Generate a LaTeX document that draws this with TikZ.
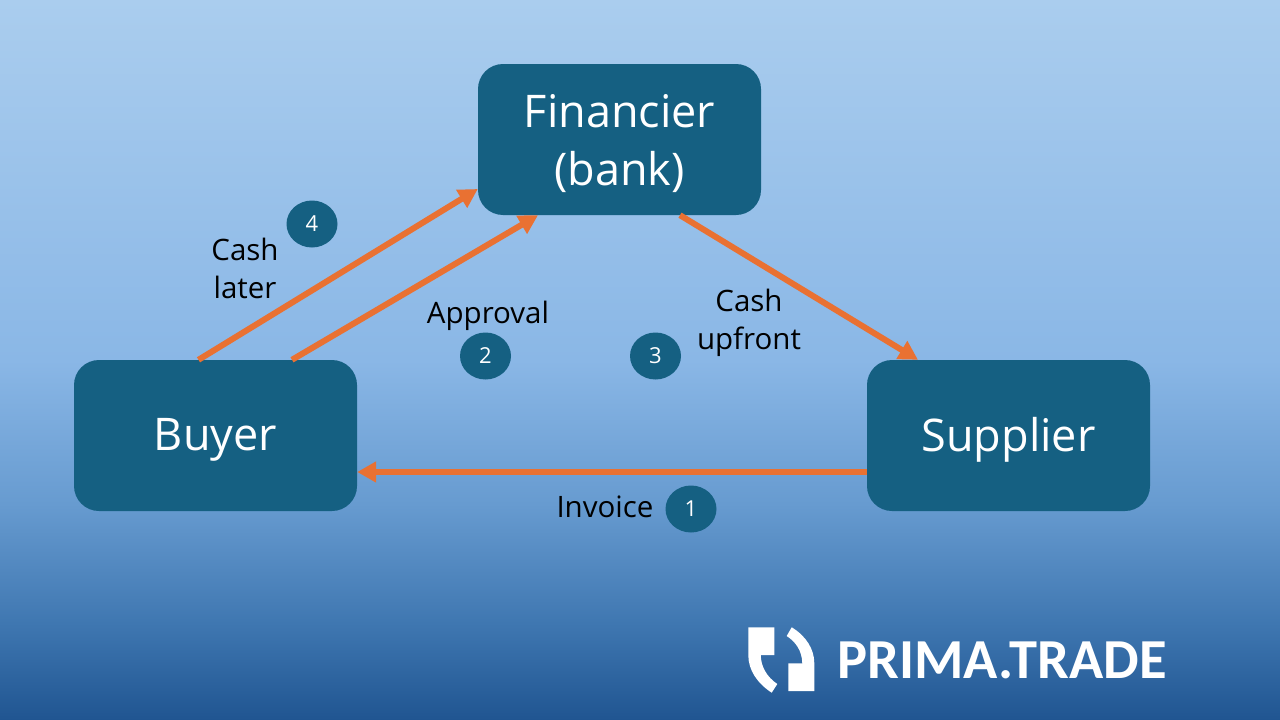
\documentclass[tikz,border=0pt]{standalone}
\usepackage{fontspec}
\setmainfont{Open Sans}
\newfontfamily\logofont{Carlito}
\usetikzlibrary{arrows.meta, shapes.geometric}
\definecolor{boxblue}{HTML}{156082}
\definecolor{arroworange}{HTML}{E97132}
\definecolor{skyA}{RGB}{32,85,145}
\definecolor{skyB}{RGB}{62,118,176}
\definecolor{skyC}{RGB}{103,155,208}
\definecolor{skyD}{RGB}{138,183,230}
\definecolor{skyE}{RGB}{170,205,238}
\pgfdeclareverticalshading{skyfade}{100bp}{
  color(0bp)=(skyA);
  color(25bp)=(skyA);
  color(31.5bp)=(skyB);
  color(40bp)=(skyC);
  color(50bp)=(skyD);
  color(75bp)=(skyE);
  color(100bp)=(skyE)}
\newcommand{\partyline}[1]{\raisebox{-4.5pt}[\height][\depth]{#1}}
\tikzset{
  party/.style={draw=none,fill=boxblue,rounded corners=25pt,minimum width=283pt,minimum height=151pt,
    text=white,align=center,font=\fontsize{45}{58}\selectfont},
  stepmark/.style={shape=ellipse,fill=boxblue,inner sep=0pt,minimum width=51pt,minimum height=47pt,
    text=white,font=\fontsize{22}{24}\selectfont},
  caption/.style={align=center,text=black,inner sep=0pt,font=\fontsize{29.5}{38}\selectfont},
  flow/.style={draw=arroworange,line width=6pt,-{Triangle[length=19pt,width=20pt]}}
}
\begin{document}
\begin{tikzpicture}[x=1pt,y=-1pt]
  \useasboundingbox (0,0) rectangle (1280,720);
  \shade[shading=skyfade] (0,0) rectangle (1280,720);
  \node[party] (fin) at (619.5,139.5) {\partyline{Financier}\\\partyline{(bank)}};
  \node[party] (buyer) at (215.5,435.5) {\partyline{Buyer}};
  \node[party] (supplier) at (1008.5,435.5) {\partyline{Supplier}};
  \draw[flow] ([xshift=-17pt]buyer.north) -- ([yshift=-49.5pt]fin.west);
  \draw[flow] ([xshift=76.5pt]buyer.north) -- ([xshift=-81.5pt]fin.south);
  \draw[flow] ([xshift=60.5pt]fin.south) -- ([xshift=-90.5pt]supplier.north);
  \draw[flow] ([yshift=-36.5pt]supplier.west) -- ([yshift=-36.5pt]buyer.east);
  \node[stepmark] (s1) at (691,509) {1};
  \node[stepmark] (s2) at (485.5,356) {2};
  \node[stepmark] (s3) at (655.5,356) {3};
  \node[stepmark] (s4) at (312,224) {4};
  \node[caption] (invoice) at (605,507) {Invoice};
  \node[caption] (approval) at (488,316) {Approval};
  \node[caption] (upfront) at (749,323) {Cash\\upfront};
  \node[caption] (later) at (245,268) {Cash\\later};
  % logo
  \fill[white] (748.3,627.3) -- (774.3,627.3) -- (774.3,655) -- (760.7,655)
    .. controls (761,667) and (767,677) .. (777.3,684) -- (771.7,692.7)
    .. controls (757,683) and (748.3,670) .. (748.3,655) -- cycle;
  \fill[white] (814.3,691) -- (788.3,691) -- (788.3,663.3) -- (802.3,663.3)
    .. controls (802,651) and (796,642) .. (786.7,636) -- (791.7,627.3)
    .. controls (806,636) and (814.3,649) .. (814.3,663.3) -- cycle;
  \node[anchor=base west,inner sep=0pt,text=white,font=\logofont\bfseries\fontsize{56.5}{60}\selectfont] (brand) at (837,678) {PRIMA.TRADE};
\end{tikzpicture}
\end{document}
